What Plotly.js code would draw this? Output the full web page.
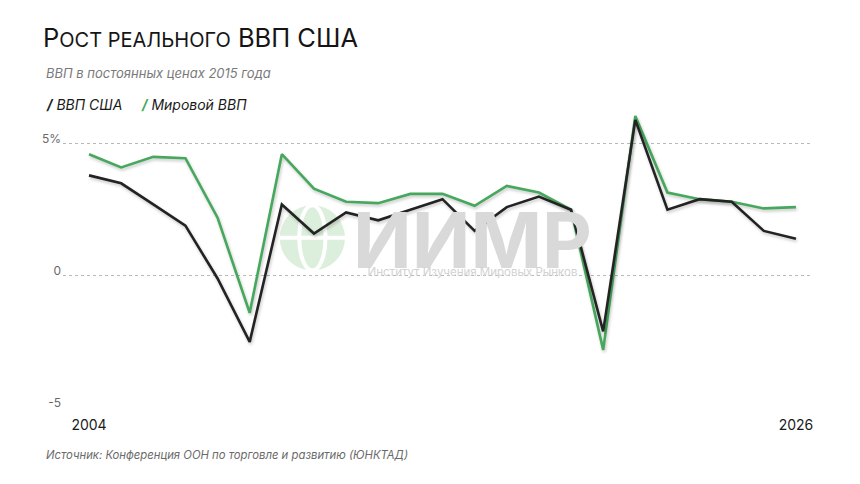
<!DOCTYPE html>
<html>
<head>
<meta charset="utf-8">
<script src="https://cdn.plot.ly/plotly-3.0.1.min.js"></script>
<style>
  html, body { margin: 0; padding: 0; background: #fff; }
  #chart { width: 860px; height: 484px; }
  .scatterlayer .js-line { filter: drop-shadow(1px 2px 1.5px rgba(0,0,0,0.22)); }
</style>
</head>
<body>
<div id="chart"></div>
<script>
// ---- data ----
const years = [2004, 2005, 2006, 2007, 2008, 2009, 2010, 2011, 2012, 2013, 2014, 2015,
               2016, 2017, 2018, 2019, 2020, 2021, 2022, 2023, 2024, 2025, 2026];
const usGdp = [3.8, 3.5, 2.7, 1.9, -0.1, -2.5, 2.7, 1.6, 2.4, 2.1, 2.5, 2.9,
               1.7, 2.6, 3.0, 2.5, -2.1, 5.9, 2.5, 2.9, 2.8, 1.7, 1.4];
const worldGdp = [4.6, 4.1, 4.5, 4.45, 2.2, -1.4, 4.6, 3.3, 2.8, 2.75, 3.1, 3.1,
                  2.65, 3.4, 3.15, 2.5, -2.8, 6.05, 3.15, 2.9, 2.8, 2.55, 2.6];
const seriesNames = ['ВВП США', 'Мировой ВВП'];
const yTickVals = [-5, 0, 5];
const yTickText = ['-5', '0', '5%'];
const xTickVals = [2004, 2026];
const xTickText = ['2004', '2026'];

const FONT = 'Inter, "Noto Sans", "DejaVu Sans", sans-serif';
const BLACK = '#232323';
const GREEN = '#45a85c';

const traces = [
  { x: years, y: worldGdp, name: seriesNames[1], type: 'scatter', mode: 'lines',
    line: { color: GREEN, width: 2.6 }, hoverinfo: 'skip' },
  { x: years, y: usGdp, name: seriesNames[0], type: 'scatter', mode: 'lines',
    line: { color: BLACK, width: 2.6 }, hoverinfo: 'skip' }
];

const layout = {
  width: 860, height: 484,
  paper_bgcolor: '#fff', plot_bgcolor: '#fff',
  margin: { l: 63, r: 47, t: 104, b: 76, pad: 0 },
  showlegend: false,
  font: { family: FONT, color: '#222' },
  title: {
    text: '<span style="font-size:25.5px">Р</span><span style="font-size:20px">ОСТ РЕАЛЬНОГО</span> <span style="font-size:25.5px">ВВП США</span>',
    x: 43 / 860, xanchor: 'left', xref: 'container',
    y: 1 - 38 / 484, yanchor: 'middle', yref: 'container',
    font: { family: FONT, size: 25.5, color: '#151515', weight: 400 }
  },
  xaxis: {
    range: [2003.19, 2026.53],
    tickvals: xTickVals, ticktext: xTickText,
    showgrid: false, zeroline: false, showline: false,
    ticks: '', ticklabelstandoff: 7,
    tickfont: { family: FONT, size: 14, color: '#1a1a1a' },
    fixedrange: true
  },
  yaxis: {
    range: [-5, 6.5],
    tickvals: yTickVals, ticktext: yTickText,
    showgrid: true, gridcolor: '#b8b8b8', gridwidth: 1, griddash: '3px,3px',
    zeroline: false, showline: false, ticks: '',
    ticklabelshift: -5, ticklabelstandoff: 1,
    tickfont: { family: FONT, size: 12, color: '#6a6a6a' },
    fixedrange: true
  },
  shapes: [
    { type: 'circle', xref: 'paper', yref: 'paper', layer: 'below',
      x0: 0.289, x1: 0.376, y0: 0.452, y1: 0.667,
      fillcolor: '#dcefdc', line: { width: 0 } },
    { type: 'circle', xref: 'paper', yref: 'paper', layer: 'below',
      x0: 0.315, x1: 0.350, y0: 0.452, y1: 0.667,
      fillcolor: 'rgba(0,0,0,0)', line: { width: 4, color: '#ffffff' } },
    { type: 'line', xref: 'paper', yref: 'paper', layer: 'below',
      x0: 0.289, x1: 0.376, y0: 0.56, y1: 0.56,
      line: { width: 4, color: '#ffffff' } }
  ],
  annotations: [
    { text: '<span style="font-size:77px;font-weight:700;color:#d9d9d9">ИИМР</span><br>' +
            '<span style="font-size:11.5px;color:#d2d2d2">Институт Изучения Мировых Рынков</span>',
      xref: 'paper', yref: 'paper', x: 0.546, y: 0.552,
      xanchor: 'center', yanchor: 'middle', align: 'center', showarrow: false,
      font: { family: FONT, size: 6.5, color: '#d6d6d6' } },
    { text: 'ВВП в постоянных ценах 2015 года', xref: 'paper', yref: 'paper',
      x: -0.0253, y: 1.103, xanchor: 'left', yanchor: 'middle', showarrow: false,
      font: { family: FONT, size: 13, color: '#7a7a7a', style: 'italic' } },
    { text: '<span style="color:' + BLACK + '"><b>/</b></span> ' + seriesNames[0] +
            '&nbsp;&nbsp;&nbsp;&nbsp;&nbsp;<span style="color:' + GREEN + '"><b>/</b></span> ' + seriesNames[1],
      xref: 'paper', yref: 'paper',
      x: -0.0253, y: 1.0, xanchor: 'left', yanchor: 'middle', showarrow: false,
      font: { family: FONT, size: 14, color: '#1a1a1a', style: 'italic' } },
    { text: 'Источник: Конференция ООН по торговле и развитию (ЮНКТАД)', xref: 'paper', yref: 'paper',
      x: -0.0253, y: -0.153, xanchor: 'left', yanchor: 'middle', showarrow: false,
      font: { family: FONT, size: 11.3, color: '#6a6a6a', style: 'italic' } }
  ]
};

Plotly.newPlot('chart', traces, layout, { displayModeBar: false, staticPlot: true });
</script>
</body>
</html>
